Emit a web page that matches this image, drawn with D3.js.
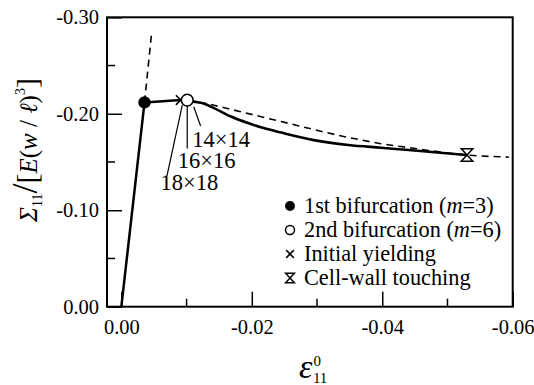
<!DOCTYPE html>
<html>
<head>
<meta charset="utf-8">
<script src="https://cdn.jsdelivr.net/npm/d3@7"></script>
<style>
  body { margin: 0; background: #fff; }
  svg { display: block; }
</style>
</head>
<body>
<div id="viz"></div>
<script>
const width = 534;
const height = 385;
const margin = {top: 17.3, right: 21.3, bottom: 78.3, left: 107};
const serif = 'Liberation Serif';

// values (strain, normalized stress)
const elasticPath = [[0, 0], [-0.00355, -0.2118]];
const elasticExtension = [[-0.00355, -0.2118], [-0.0046, -0.281]];
const plateauPath = [[-0.00355, -0.2118], [-0.0091, -0.2142], [-0.0101, -0.2142]];
const postBifurcation = [
  [-0.0101, -0.2142], [-0.0111, -0.2126], [-0.0126, -0.2106], [-0.0142, -0.2059],
  [-0.0168, -0.1971], [-0.0194, -0.1904], [-0.0218, -0.1852], [-0.0245, -0.1805],
  [-0.0295, -0.1727], [-0.0348, -0.1676], [-0.0398, -0.1648], [-0.0445, -0.1622],
  [-0.0530, -0.1572]
];
const dashedPost = [
  [-0.0101, -0.2142], [-0.0126, -0.2111], [-0.0183, -0.2021], [-0.0245, -0.1919],
  [-0.0348, -0.1755], [-0.0398, -0.1690], [-0.0440, -0.1650], [-0.0530, -0.1572],
  [-0.0594, -0.1551]
];
const firstBifurcation = [[-0.00355, -0.2118]];
const secondBifurcation = [[-0.0101, -0.2142]];
const initialYielding = [[-0.0091, -0.2142]];
const wallTouching = [[-0.0530, -0.1572]];

// mesh annotations: leader from [x1,y1] to [x2,y2], label at [lx,ly]
const meshLabels = [
  {text: '14×14', line: [[-0.0111, -0.2073], [-0.01215, -0.1873]], at: [-0.01088, -0.1659]},
  {text: '16×16', line: [[-0.0101, -0.2090], [-0.0101, -0.1641]], at: [-0.00866, -0.1434]},
  {text: '18×18', line: [[-0.00934, -0.2090], [-0.00702, -0.1365]], at: [-0.0060, -0.1209]}
];

const xMajor = [0, -0.02, -0.04, -0.06];
const xMinor = [-0.01, -0.03, -0.05];
const yMajor = [0, -0.1, -0.2, -0.3];
const yMinor = [-0.05, -0.15, -0.25];

const legendItems = [
  {symbol: 'filled', label: '1st bifurcation (', ital: 'm', rest: '=3)'},
  {symbol: 'open', label: '2nd bifurcation (', ital: 'm', rest: '=6)'},
  {symbol: 'cross', label: 'Initial yielding'},
  {symbol: 'hourglass', label: 'Cell-wall touching'}
];

const scaleX = d3.scaleLinear()
  .domain([0.0022, -0.06])
  .range([margin.left, width - margin.right]);
const scaleY = d3.scaleLinear()
  .domain([0, -0.3])
  .range([height - margin.bottom, margin.top]);

const svg = d3.select('#viz')
  .append('svg')
    .attr('width', width)
    .attr('height', height)
    .attr('font-family', serif);

const line = d3.line().x(d => scaleX(d[0])).y(d => scaleY(d[1]));
const smooth = d3.line().x(d => scaleX(d[0])).y(d => scaleY(d[1])).curve(d3.curveMonotoneX);
const fmt = d => d === 0 ? '0.00' : d3.format('.2f')(d).replace('−', '-');

// ticks (inside, left and bottom)
const xAxis = d3.axisBottom(scaleX).tickValues(xMajor).tickSizeInner(-15).tickSizeOuter(0).tickFormat(fmt);
const gx = svg.append('g')
  .attr('transform', `translate(0,${height - margin.bottom})`)
  .call(xAxis)
  .attr('font-family', serif)
  .attr('font-size', 20.5);
gx.select('.domain').remove();
gx.selectAll('line').attr('stroke', '#000').attr('stroke-width', 1.5);
gx.selectAll('text')
  .attr('y', 13)
  .attr('dy', '0.71em')
  .attr('fill', '#000');

svg.append('g').selectAll('line')
  .data(xMinor)
  .join('line')
    .attr('x1', d => scaleX(d)).attr('x2', d => scaleX(d))
    .attr('y1', height - margin.bottom).attr('y2', height - margin.bottom - 8)
    .attr('stroke', '#000').attr('stroke-width', 1.5);

const yAxis = d3.axisLeft(scaleY).tickValues(yMajor).tickSizeInner(-15).tickSizeOuter(0).tickFormat(fmt);
const gy = svg.append('g')
  .attr('transform', `translate(${margin.left},0)`)
  .call(yAxis)
  .attr('font-family', serif)
  .attr('font-size', 20.5);
gy.select('.domain').remove();
gy.selectAll('line').attr('stroke', '#000').attr('stroke-width', 1.5);
gy.selectAll('text')
  .attr('x', -8)
  .attr('fill', '#000');

svg.append('g').selectAll('line')
  .data(yMinor)
  .join('line')
    .attr('x1', margin.left).attr('x2', margin.left + 8)
    .attr('y1', d => scaleY(d)).attr('y2', d => scaleY(d))
    .attr('stroke', '#000').attr('stroke-width', 1.5);

// frame
svg.append('rect')
  .attr('x', margin.left)
  .attr('y', margin.top)
  .attr('width', width - margin.left - margin.right)
  .attr('height', height - margin.top - margin.bottom)
  .attr('fill', 'none')
  .attr('stroke', '#000')
  .attr('stroke-width', 2);

// dashed curves
svg.append('path')
  .attr('d', line(elasticExtension))
  .attr('fill', 'none').attr('stroke', '#000')
  .attr('stroke-width', 1.6).attr('stroke-dasharray', '7 5');
svg.append('path')
  .attr('d', smooth(dashedPost))
  .attr('fill', 'none').attr('stroke', '#000')
  .attr('stroke-width', 1.6).attr('stroke-dasharray', '7 5');

// solid curves
svg.append('path')
  .attr('d', line(elasticPath.concat(plateauPath.slice(1))))
  .attr('fill', 'none').attr('stroke', '#000')
  .attr('stroke-width', 2.5).attr('stroke-linejoin', 'round');
svg.append('path')
  .attr('d', smooth(postBifurcation))
  .attr('fill', 'none').attr('stroke', '#000')
  .attr('stroke-width', 2.6);

// mesh leaders and labels
const mesh = svg.append('g');
mesh.selectAll('line')
  .data(meshLabels)
  .join('line')
    .attr('x1', d => scaleX(d.line[0][0])).attr('y1', d => scaleY(d.line[0][1]))
    .attr('x2', d => scaleX(d.line[1][0])).attr('y2', d => scaleY(d.line[1][1]))
    .attr('stroke', '#000').attr('stroke-width', 1.2);
mesh.selectAll('text')
  .data(meshLabels)
  .join('text')
    .attr('x', d => scaleX(d.at[0]))
    .attr('y', d => scaleY(d.at[1]))
    .attr('font-size', 22.5)
    .text(d => d.text);

// markers
const drawMarker = (g, type, cx, cy, s) => {
  if (type === 'filled') {
    g.append('circle').attr('cx', cx).attr('cy', cy).attr('r', s * 0.62).attr('fill', '#000');
  } else if (type === 'open') {
    g.append('circle').attr('cx', cx).attr('cy', cy).attr('r', s * 0.56)
      .attr('fill', '#fff').attr('stroke', '#000').attr('stroke-width', 1.5);
  } else if (type === 'cross') {
    const h = s * 0.48;
    g.append('path')
      .attr('d', `M${cx - h},${cy - h}L${cx + h},${cy + h}M${cx - h},${cy + h}L${cx + h},${cy - h}`)
      .attr('stroke', '#000').attr('stroke-width', 1.6).attr('fill', 'none');
  } else {
    const w = s * 0.55, h = s * 0.6;
    g.append('path')
      .attr('d', `M${cx - w},${cy - h}H${cx + w}L${cx - w},${cy + h}H${cx + w}Z`)
      .attr('stroke', '#000').attr('stroke-width', 1.5).attr('fill', 'none')
      .attr('stroke-linejoin', 'miter');
  }
};

const marks = svg.append('g');
firstBifurcation.forEach(d => drawMarker(marks, 'filled', scaleX(d[0]), scaleY(d[1]), 10));
initialYielding.forEach(d => drawMarker(marks, 'cross', scaleX(d[0]), scaleY(d[1]), 10));
secondBifurcation.forEach(d => drawMarker(marks, 'open', scaleX(d[0]), scaleY(d[1]), 10.5));
wallTouching.forEach(d => drawMarker(marks, 'hourglass', scaleX(d[0]), scaleY(d[1]), 10.5));

// legend
const legend = svg.append('g');
legendItems.forEach((item, i) => {
  const base = 213 + i * 24;
  drawMarker(legend, item.symbol, 290, base - 7, 8);
  const t = legend.append('text')
    .attr('x', 304)
    .attr('y', base)
    .attr('font-size', 22.3)
    .text(item.label);
  if (item.ital) {
    t.append('tspan').attr('font-style', 'italic').text(item.ital);
    t.append('tspan').text(item.rest);
  }
});

// x axis title
const xt = svg.append('text')
  .attr('x', 299)
  .attr('y', 378);
xt.append('tspan')
  .attr('font-style', 'italic')
  .attr('font-size', 34)
  .text('ε');
xt.append('tspan')
  .attr('dx', 1)
  .attr('dy', -12)
  .attr('font-size', 15)
  .text('0');
xt.append('tspan')
  .attr('dx', -8)
  .attr('dy', 17)
  .attr('font-size', 15)
  .text('11');

// y axis title
const yt = svg.append('text')
  .attr('transform', 'translate(37,150) rotate(-90)')
  .attr('text-anchor', 'middle');
yt.append('tspan').attr('font-style', 'italic').attr('font-size', 25).text('Σ');
yt.append('tspan').attr('dy', 5).attr('font-size', 14).text('11');
yt.append('tspan').attr('dy', -5).attr('font-size', 36).text('/');
yt.append('tspan').attr('font-size', 30).text('[');
yt.append('tspan').attr('font-style', 'italic').attr('font-size', 25).text('E');
yt.append('tspan').attr('font-size', 25).text('(');
yt.append('tspan').attr('font-style', 'italic').attr('font-size', 25).text('w');
yt.append('tspan').attr('font-size', 25).text(' / ');
yt.append('tspan').attr('font-style', 'italic').attr('font-size', 25).text('ℓ');
yt.append('tspan').attr('font-size', 25).text(')');
yt.append('tspan').attr('dy', -12).attr('font-size', 14).text('3');
yt.append('tspan').attr('dy', 12).attr('font-size', 30).text(']');
</script>
</body>
</html>
